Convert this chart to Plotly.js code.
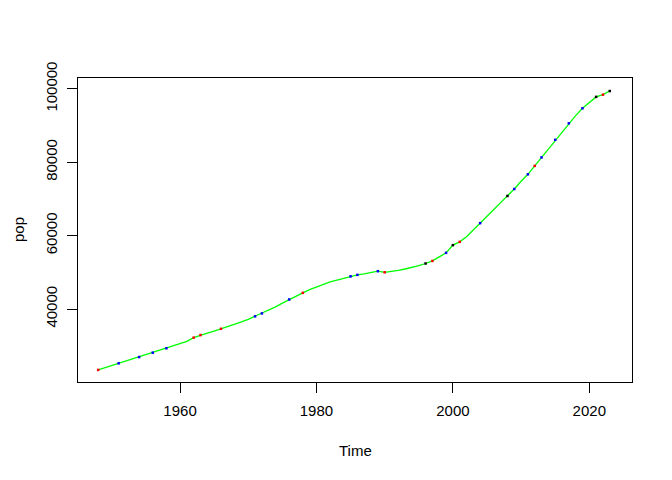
<!DOCTYPE html>
<html>
<head>
<meta charset="utf-8">
<script src="https://cdn.plot.ly/plotly-3.0.1.min.js"></script>
<style>html,body{margin:0;padding:0;background:#fff;}#chart{width:672px;height:480px;}</style>
</head>
<body>
<div id="chart"></div>
<script>
const years = [1948,1949,1950,1951,1952,1953,1954,1955,1956,1957,1958,1959,
  1960,1961,1962,1963,1964,1965,1966,1967,1968,1969,
  1970,1971,1972,1973,1974,1975,1976,1977,1978,1979,
  1980,1981,1982,1983,1984,1985,1986,1987,1988,1989,
  1990,1991,1992,1993,1994,1995,1996,1997,1998,1999,
  2000,2001,2002,2003,2004,2005,2006,2007,2008,2009,
  2010,2011,2012,2013,2014,2015,2016,2017,2018,2019,
  2020,2021,2022,2023];
const pop = [23400,24000,24600,25200,25800,26400,26900,27500,28100,28700,29300,29900,
  30500,31200,32200,32900,33400,34000,34600,35100,35800,36500,
  37200,38000,38800,39700,40600,41600,42600,43500,44400,45300,
  46000,46800,47400,47900,48400,48900,49300,49600,49900,50300,
  50000,50200,50500,50900,51300,51800,52400,53100,54200,55300,
  57400,58300,59700,61500,63400,65200,67100,69000,70800,72700,
  74800,76700,79000,81300,83700,86100,88400,90600,92700,94700,
  96300,97800,98400,99400];
const markYears  = [1948,1951,1954,1956,1958,1962,1963,1966,1971,1972,1976,1978,1985,1986,1989,1990,1996,1997,1999,2000,2001,2004,2008,2009,2011,2012,2013,2015,2017,2019,2021,2022,2023];
const markColors = ['red','blue','blue','blue','blue','red','red','red','blue','blue','blue','red','blue','blue','blue','red','black','red','blue','black','red','blue','black','blue','blue','red','blue','blue','blue','blue','black','red','black'];
const xTicks = [1960,1980,2000,2020];
const yTicks = [40000,60000,80000,100000];

const markPop = markYears.map(y => pop[years.indexOf(y)]);

const font = {family:'"Liberation Sans", Arial, sans-serif', size:15, color:'#000'};
const data = [
  {x: years, y: pop, type:'scatter', mode:'lines', line:{color:'#00FF00', width:1.3}, hoverinfo:'skip'},
  {x: markYears, y: markPop, type:'scatter', mode:'markers',
   marker:{symbol:'square', size:2.5, color: markColors, line:{width:0}}, hoverinfo:'skip'}
];
const layout = {
  width:672, height:480,
  margin:{l:78, r:40, t:78, b:98, pad:0},
  paper_bgcolor:'#fff', plot_bgcolor:'#fff',
  showlegend:false,
  font: font,
  xaxis:{range:[1945.04,2026.26], tickvals:xTicks, ticktext:xTicks.map(String),
    ticks:'outside', ticklen:10, tickwidth:1, tickcolor:'#000',
    showgrid:false, zeroline:false, showline:true, mirror:true, linecolor:'#000', linewidth:1,
    tickfont:font, ticklabelstandoff:5},
  yaxis:{range:[20108,102948], tickvals:yTicks, ticktext:yTicks.map(String),
    ticks:'outside', ticklen:10, tickwidth:1, tickcolor:'#000', tickangle:-90,
    showgrid:false, zeroline:false, showline:true, mirror:true, linecolor:'#000', linewidth:1,
    tickfont:font, ticklabelstandoff:4},
  annotations:[
    {text:'Time', xref:'paper', yref:'paper', x:0.5, y:(382-450)/304, xanchor:'center', yanchor:'middle', showarrow:false, font:font},
    {text:'pop', xref:'paper', yref:'paper', x:(18-78)/554, y:0.5, xanchor:'center', yanchor:'middle', textangle:-90, showarrow:false, font:font}
  ]
};
Plotly.newPlot('chart', data, layout, {staticPlot:true, displayModeBar:false});
</script>
</body>
</html>
